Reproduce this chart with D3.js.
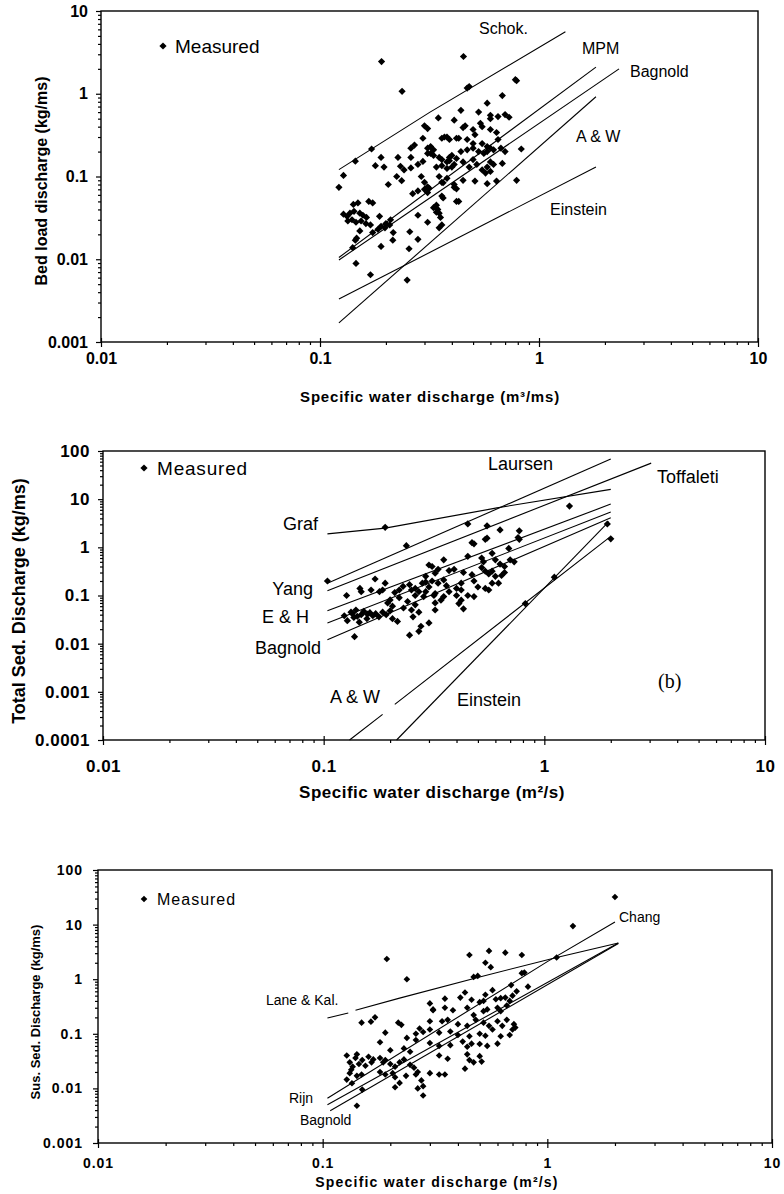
<!DOCTYPE html>
<html><head><meta charset="utf-8">
<script src="https://cdn.jsdelivr.net/npm/d3@7"></script>
<style>
body{margin:0;background:#fff}
svg{display:block}
text{font-family:"Liberation Sans",Arial,sans-serif;fill:#000}
</style></head><body>
<div id="chart"></div>
<script>
// ---- data: [specific water discharge, sediment discharge] ----
const xTicks = [0.01, 0.1, 1, 10];
const yTicksBed = [0.001, 0.01, 0.1, 1, 10];
const yTicksTotal = [0.0001, 0.001, 0.01, 0.1, 1, 10, 100];
const yTicksSus = [0.001, 0.01, 0.1, 1, 10, 100];

// (a) bed load
const bedMeasured = [[0.191,2.45],[0.237,1.07],[0.452,2.82],[0.47,1.17],[0.48,1.22],[0.78,1.48],[0.79,1.44],[0.68,0.95],[0.58,0.77],[0.53,0.6],[0.44,0.63],[0.347,0.51],[0.41,0.48],[0.30,0.41],[0.31,0.38],[0.37,0.3],[0.36,0.29],[0.295,0.29],[0.42,0.29],[0.172,0.215],[0.145,0.153],[0.27,0.24],[0.26,0.22],[0.31,0.22],[0.32,0.23],[0.33,0.21],[0.19,0.17],[0.227,0.17],[0.26,0.17],[0.179,0.135],[0.196,0.13],[0.233,0.133],[0.242,0.12],[0.28,0.14],[0.295,0.152],[0.36,0.16],[0.38,0.15],[0.39,0.17],[0.4,0.18],[0.42,0.165],[0.41,0.14],[0.224,0.1],[0.236,0.089],[0.26,0.127],[0.29,0.1],[0.3,0.085],[0.31,0.075],[0.3,0.07],[0.315,0.072],[0.35,0.1],[0.36,0.085],[0.38,0.095],[0.128,0.103],[0.122,0.074],[0.205,0.08],[0.265,0.062],[0.28,0.067],[0.31,0.064],[0.365,0.055],[0.41,0.074],[0.43,0.05],[0.142,0.046],[0.149,0.048],[0.167,0.05],[0.174,0.048],[0.128,0.035],[0.133,0.033],[0.137,0.036],[0.143,0.038],[0.152,0.036],[0.157,0.034],[0.163,0.032],[0.134,0.029],[0.14,0.03],[0.146,0.028],[0.154,0.029],[0.162,0.027],[0.17,0.026],[0.187,0.033],[0.21,0.03],[0.2,0.027],[0.19,0.025],[0.152,0.022],[0.174,0.021],[0.184,0.023],[0.198,0.024],[0.208,0.026],[0.147,0.018],[0.145,0.017],[0.141,0.0138],[0.216,0.021],[0.215,0.017],[0.19,0.0143],[0.257,0.0215],[0.28,0.034],[0.31,0.028],[0.28,0.0174],[0.255,0.0134],[0.146,0.0089],[0.17,0.0065],[0.25,0.0056],[0.34,0.045],[0.345,0.04],[0.35,0.036],[0.355,0.032],[0.35,0.024],[0.36,0.026],[0.42,0.05],[0.6,0.5],[0.65,0.53],[0.7,0.56],[0.73,0.52],[0.6,0.55],[0.46,0.41],[0.45,0.39],[0.54,0.44],[0.55,0.4],[0.5,0.37],[0.51,0.32],[0.6,0.37],[0.64,0.34],[0.65,0.28],[0.38,0.3],[0.39,0.28],[0.43,0.29],[0.47,0.28],[0.5,0.25],[0.55,0.25],[0.58,0.23],[0.6,0.22],[0.31,0.19],[0.32,0.19],[0.33,0.18],[0.35,0.17],[0.39,0.155],[0.44,0.2],[0.47,0.21],[0.5,0.22],[0.53,0.2],[0.56,0.19],[0.58,0.2],[0.62,0.21],[0.67,0.22],[0.7,0.2],[0.34,0.13],[0.36,0.135],[0.38,0.125],[0.4,0.13],[0.45,0.15],[0.48,0.13],[0.5,0.16],[0.52,0.14],[0.55,0.12],[0.58,0.13],[0.6,0.15],[0.62,0.14],[0.83,0.215],[0.68,0.144],[0.57,0.11],[0.6,0.115],[0.51,0.088],[0.45,0.09],[0.41,0.08],[0.42,0.071],[0.365,0.084],[0.36,0.058],[0.58,0.082],[0.64,0.088],[0.79,0.09],[0.33,0.042],[0.34,0.037]];
const bedSchok = [[0.122,0.121],[0.318,0.6],[1.32,5.6]];
const bedMPM = [[0.122,0.0105],[1.82,2.1]];
const bedBagnold = [[0.122,0.0098],[2.32,2.0]];
const bedAW = [[0.122,0.0017],[1.82,0.92]];
const bedEinstein = [[0.122,0.0033],[1.82,0.13]];

// (b) total load
const totMeasured = [[0.19,2.6],[0.237,1.08],[0.104,0.2],[0.146,0.14],[0.148,0.12],[0.171,0.22],[0.127,0.1],[0.164,0.13],[0.179,0.12],[0.19,0.18],[0.185,0.13],[0.22,0.13],[0.229,0.155],[0.21,0.115],[0.245,0.168],[0.26,0.14],[0.28,0.18],[0.29,0.19],[0.3,0.43],[0.32,0.29],[0.29,0.25],[0.2,0.081],[0.195,0.07],[0.205,0.06],[0.124,0.038],[0.128,0.03],[0.133,0.045],[0.137,0.035],[0.14,0.05],[0.145,0.028],[0.148,0.04],[0.152,0.047],[0.157,0.033],[0.162,0.044],[0.167,0.038],[0.172,0.042],[0.178,0.036],[0.185,0.045],[0.192,0.04],[0.2,0.048],[0.205,0.033],[0.135,0.042],[0.142,0.037],[0.158,0.041],[0.138,0.014],[0.216,0.029],[0.245,0.015],[0.254,0.036],[0.27,0.018],[0.276,0.023],[0.26,0.064],[0.3,0.027],[0.29,0.12],[0.284,0.095],[0.316,0.1],[0.32,0.07],[0.45,3.06],[0.55,2.8],[0.63,2.3],[0.77,2.2],[0.47,1.25],[0.48,1.18],[0.54,1.47],[0.55,1.55],[0.77,1.47],[0.76,1.6],[0.69,0.95],[0.58,0.75],[0.35,0.55],[0.45,0.65],[0.52,0.6],[0.53,0.5],[0.6,0.55],[0.63,0.45],[0.7,0.55],[0.73,0.5],[0.66,0.4],[0.31,0.4],[0.33,0.35],[0.37,0.33],[0.39,0.35],[0.43,0.3],[0.47,0.27],[0.52,0.38],[0.54,0.32],[0.56,0.28],[0.58,0.32],[0.6,0.25],[0.64,0.26],[0.66,0.3],[0.31,0.2],[0.33,0.18],[0.35,0.21],[0.36,0.16],[0.4,0.14],[0.42,0.18],[0.48,0.2],[0.5,0.15],[0.54,0.14],[0.58,0.18],[0.56,0.13],[0.62,0.18],[0.32,0.11],[0.35,0.095],[0.37,0.12],[0.4,0.1],[0.42,0.13],[0.45,0.1],[0.48,0.095],[0.32,0.05],[0.43,0.053],[0.42,0.08],[0.41,0.068],[0.34,0.08],[0.25,0.05],[0.27,0.045],[0.23,0.055],[0.24,0.075],[0.22,0.09],[0.26,0.1],[0.3,0.15],[0.27,0.12],[0.25,0.13],[1.11,0.24],[0.82,0.068],[1.3,7.2],[1.93,3.05],[2.0,1.5]];
const totLaursen = [[0.104,0.18],[2.0,68]];
const totToffaleti = [[0.104,0.125],[3.05,56]];
const totGraf = [[0.104,1.9],[0.19,2.5],[0.61,6.6],[2.0,16]];
const totYang = [[0.104,0.048],[2.0,7.9]];
const totEH = [[0.104,0.027],[2.0,5.4]];
const totBagnold = [[0.104,0.012],[2.0,4.1]];
const totAW = [[0.131,0.0001],[0.185,0.00034],null,[0.21,0.00055],[1.96,1.57]];
const totEinstein = [[0.214,0.0001],[1.96,3.4]];

// (c) suspended load
const susMeasured = [[0.193,2.34],[0.237,1.0],[0.3,0.36],[0.31,0.27],[0.149,0.16],[0.164,0.167],[0.171,0.2],[0.217,0.16],[0.224,0.146],[0.19,0.105],[0.18,0.07],[0.237,0.084],[0.26,0.1],[0.27,0.125],[0.28,0.108],[0.2,0.05],[0.23,0.054],[0.26,0.077],[0.245,0.047],[0.128,0.04],[0.132,0.03],[0.136,0.025],[0.14,0.036],[0.145,0.028],[0.15,0.033],[0.155,0.026],[0.16,0.038],[0.165,0.03],[0.168,0.034],[0.134,0.022],[0.142,0.042],[0.132,0.019],[0.142,0.017],[0.149,0.018],[0.128,0.0145],[0.135,0.0124],[0.18,0.036],[0.186,0.03],[0.19,0.033],[0.2,0.028],[0.21,0.025],[0.22,0.03],[0.23,0.034],[0.245,0.027],[0.18,0.02],[0.19,0.018],[0.205,0.019],[0.21,0.016],[0.235,0.017],[0.21,0.0105],[0.22,0.0126],[0.255,0.024],[0.26,0.018],[0.265,0.02],[0.275,0.014],[0.28,0.011],[0.28,0.0074],[0.265,0.01],[0.15,0.0095],[0.142,0.0048],[0.45,2.77],[0.55,3.3],[0.65,3.06],[0.77,2.77],[0.53,2.0],[0.56,1.66],[1.1,2.5],[0.47,1.1],[0.49,1.15],[0.77,1.29],[0.79,1.32],[0.69,0.78],[0.82,0.73],[0.73,0.6],[0.43,0.57],[0.53,0.52],[0.57,0.63],[0.35,0.44],[0.41,0.46],[0.46,0.42],[0.5,0.38],[0.52,0.4],[0.59,0.43],[0.62,0.45],[0.65,0.46],[0.68,0.4],[0.7,0.5],[0.31,0.28],[0.35,0.3],[0.38,0.27],[0.44,0.3],[0.47,0.22],[0.52,0.26],[0.54,0.28],[0.6,0.3],[0.62,0.26],[0.66,0.33],[0.3,0.17],[0.34,0.17],[0.36,0.18],[0.4,0.15],[0.44,0.14],[0.48,0.18],[0.52,0.16],[0.55,0.14],[0.6,0.17],[0.63,0.14],[0.66,0.18],[0.72,0.13],[0.71,0.15],[0.3,0.12],[0.33,0.105],[0.37,0.11],[0.4,0.095],[0.45,0.09],[0.5,0.1],[0.53,0.092],[0.57,0.12],[0.62,0.09],[0.68,0.095],[0.7,0.12],[0.3,0.068],[0.33,0.06],[0.37,0.062],[0.42,0.072],[0.44,0.058],[0.46,0.066],[0.5,0.065],[0.54,0.06],[0.6,0.066],[0.33,0.04],[0.36,0.035],[0.44,0.042],[0.45,0.033],[0.47,0.03],[0.3,0.019],[0.33,0.018],[0.35,0.018],[0.43,0.023],[0.51,0.031],[0.5,0.039],[1.3,9.4],[2.0,32]];
const susLane = [[0.105,0.195],[0.13,0.24],null,[0.14,0.27],[0.22,0.45],[0.5,1.1],[1.1,2.5],[2.07,4.6]];
const susChang = [[0.105,0.0066],[1.0,2.1],[2.0,11.2]];
const susRijn = [[0.105,0.005],[2.07,4.6]];
const susBagnold = [[0.108,0.0039],[2.07,4.5]];

const W = 784, H = 1194;
const svg = d3.select('#chart').append('svg')
	.attr('width', W)
	.attr('height', H);

function minors(domain) {
	const out = [];
	for (let d = domain[0]; d < domain[1] * 0.999; d *= 10) {
		for (let k = 2; k <= 9; k++) out.push(d * k);
	}
	return out;
}

function drawPanel(p) {
	const x = d3.scaleLog().domain([0.01, 10]).range([p.x0, p.x1]);
	const y = d3.scaleLog().domain(p.yDomain).range([p.y1, p.y0]);
	const g = svg.append('g');
	const fmt = d => String(d);

	// minor ticks
	g.append('g')
		.attr('transform', 'translate(0,' + p.y1 + ')')
		.call(d3.axisBottom(x).tickValues(minors(x.domain())).tickSize(3).tickFormat(''))
		.call(s => s.select('.domain').remove());
	g.append('g')
		.attr('transform', 'translate(' + p.x0 + ',0)')
		.call(d3.axisLeft(y).tickValues(minors(y.domain())).tickSize(3).tickFormat(''))
		.call(s => s.select('.domain').remove());

	// x-axis
	const xa = g.append('g')
		.attr('transform', 'translate(0,' + p.y1 + ')')
		.call(d3.axisBottom(x).tickValues(xTicks).tickSize(5).tickPadding(p.xPad).tickFormat(fmt));
	xa.select('.domain').remove();
	xa.selectAll('.tick line').attr('y1', -4);

	// y-axis
	const ya = g.append('g')
		.attr('transform', 'translate(' + p.x0 + ',0)')
		.call(d3.axisLeft(y).tickValues(p.yTicks).tickSize(5).tickPadding(p.yPad).tickFormat(fmt));
	ya.select('.domain').remove();

	[xa, ya].forEach(a => a.attr('font-family', null).attr('font-size', null)
		.selectAll('text')
		.style('font-size', p.tickFont + 'px')
		.style('font-weight', 'bold')
		.style('letter-spacing', p.tickSpacing + 'px'));
	g.selectAll('.tick line').attr('stroke', '#000').attr('stroke-width', 1.2);

	// frame
	g.append('rect')
		.attr('x', p.x0).attr('y', p.y0)
		.attr('width', p.x1 - p.x0).attr('height', p.y1 - p.y0)
		.attr('fill', 'none').attr('stroke', '#000').attr('stroke-width', 1.4);

	// formula lines
	const line = d3.line()
		.defined(d => d != null)
		.x(d => x(d[0]))
		.y(d => y(d[1]));
	p.lines.forEach(l => {
		g.append('path')
			.datum(l.data)
			.attr('d', line)
			.attr('fill', 'none')
			.attr('stroke', '#000')
			.attr('stroke-width', 1.1);
	});

	// measured points
	const diamond = d3.symbol(d3.symbolSquare, p.mark)();
	g.selectAll('path.pt')
		.data(p.points)
		.enter()
		.append('path')
		.attr('class', 'pt')
		.attr('d', diamond)
		.attr('transform', d => 'translate(' + x(d[0]) + ',' + y(d[1]) + ') rotate(45)')
		.attr('fill', '#000');

	// legend
	g.append('path')
		.attr('d', diamond)
		.attr('transform', 'translate(' + p.legend[0] + ',' + p.legend[1] + ') rotate(45)')
		.attr('fill', '#000');
	g.append('text')
		.text('Measured')
		.attr('x', p.legend[0] + p.legendGap)
		.attr('y', p.legend[1])
		.attr('dy', '0.35em')
		.style('font-size', p.legendFont + 'px')
		.style('letter-spacing', p.legendSpacing + 'px');

	// line labels
	p.labels.forEach(t => {
		g.append('text')
			.text(t.text)
			.attr('x', t.x)
			.attr('y', t.y)
			.attr('text-anchor', t.anchor || 'start')
			.style('font-size', (t.size || p.labelFont) + 'px')
			.style('font-family', t.serif ? '"Liberation Serif","Times New Roman",serif' : null);
	});

	// axis titles
	g.append('text')
		.text(p.xTitle)
		.attr('x', p.xTitlePos[0])
		.attr('y', p.xTitlePos[1])
		.attr('text-anchor', 'middle')
		.style('font-size', p.xTitleFont + 'px')
		.style('font-weight', 'bold')
		.style('letter-spacing', p.xTitleSpacing + 'px');
	g.append('text')
		.text(p.yTitle)
		.attr('transform', 'translate(' + p.yTitlePos[0] + ',' + p.yTitlePos[1] + ') rotate(-90)')
		.attr('text-anchor', 'middle')
		.style('font-size', p.yTitleFont + 'px')
		.style('font-weight', 'bold');
}

drawPanel({
	x0: 101, x1: 758, y0: 11, y1: 342,
	yDomain: [0.001, 10], yTicks: yTicksBed,
	xPad: 6, yPad: 8, tickFont: 16, tickSpacing: 0,
	mark: 26,
	points: bedMeasured,
	lines: [{data: bedSchok}, {data: bedMPM}, {data: bedBagnold}, {data: bedAW}, {data: bedEinstein}],
	legend: [163, 46], legendGap: 12, legendFont: 19, legendSpacing: 0,
	labelFont: 16,
	labels: [
		{text: 'Schok.', x: 479, y: 34},
		{text: 'MPM', x: 582, y: 54},
		{text: 'Bagnold', x: 630, y: 77},
		{text: 'A & W', x: 576, y: 142},
		{text: 'Einstein', x: 550, y: 215}
	],
	xTitle: 'Specific water discharge (m³/ms)', xTitlePos: [430, 402], xTitleFont: 15, xTitleSpacing: 0.8,
	yTitle: 'Bed load discharge (kg/ms)', yTitlePos: [47, 181], yTitleFont: 16
});

drawPanel({
	x0: 103, x1: 765, y0: 451, y1: 740,
	yDomain: [0.0001, 100], yTicks: yTicksTotal,
	xPad: 15, yPad: 8, tickFont: 17, tickSpacing: 0.5,
	mark: 26,
	points: totMeasured,
	lines: [{data: totLaursen}, {data: totToffaleti}, {data: totGraf}, {data: totYang}, {data: totEH}, {data: totBagnold}, {data: totAW}, {data: totEinstein}],
	legend: [144, 468], legendGap: 13, legendFont: 19, legendSpacing: 0.8,
	labelFont: 18,
	labels: [
		{text: 'Laursen', x: 488, y: 470},
		{text: 'Toffaleti', x: 657, y: 483},
		{text: 'Graf', x: 318, y: 530, anchor: 'end'},
		{text: 'Yang', x: 313, y: 595, anchor: 'end'},
		{text: 'E & H', x: 309, y: 623, anchor: 'end'},
		{text: 'Bagnold', x: 321, y: 654, anchor: 'end'},
		{text: 'A & W', x: 330, y: 703},
		{text: 'Einstein', x: 457, y: 706},
		{text: '(b)', x: 658, y: 688, size: 20, serif: true}
	],
	xTitle: 'Specific water discharge (m²/s)', xTitlePos: [432, 798], xTitleFont: 17, xTitleSpacing: 0.5,
	yTitle: 'Total Sed. Discharge (kg/ms)', yTitlePos: [25, 601], yTitleFont: 18
});

drawPanel({
	x0: 98, x1: 772, y0: 870, y1: 1143,
	yDomain: [0.001, 100], yTicks: yTicksSus,
	xPad: 10, yPad: 10, tickFont: 14, tickSpacing: 1,
	mark: 22,
	points: susMeasured,
	lines: [{data: susLane}, {data: susChang}, {data: susRijn}, {data: susBagnold}],
	legend: [144, 899], legendGap: 13, legendFont: 16, legendSpacing: 1,
	labelFont: 14,
	labels: [
		{text: 'Lane & Kal.', x: 266, y: 1005},
		{text: 'Rijn', x: 289, y: 1103},
		{text: 'Bagnold', x: 300, y: 1125},
		{text: 'Chang', x: 619, y: 922}
	],
	xTitle: 'Specific water discharge (m²/s)', xTitlePos: [437, 1187], xTitleFont: 14, xTitleSpacing: 1.2,
	yTitle: 'Sus. Sed. Discharge (kg/ms)', yTitlePos: [40, 1012], yTitleFont: 13
});
</script>
</body></html>
